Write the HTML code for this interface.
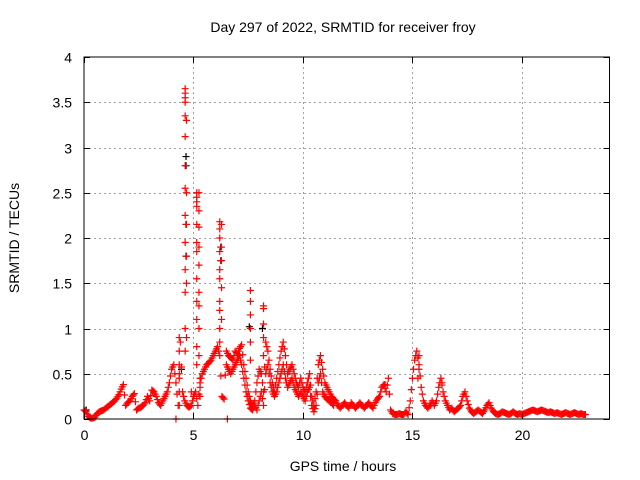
<!DOCTYPE html>
<html><head><meta charset="utf-8"><style>
body{margin:0;background:#fff}
svg{display:block}
text{font-family:"Liberation Sans",Arial,sans-serif;font-size:14px;fill:#000}
</style></head><body>
<svg id="chart" width="640" height="480" viewBox="0 0 640 480">
<rect x="0" y="0" width="640" height="480" fill="#fff"/>
<g id="grid"></g>
<g id="marks"></g>
<rect x="84" y="57" width="525.5" height="362" fill="none" stroke="#000" stroke-width="1"/>
<g id="ticks"></g>
<text x="343" y="32" text-anchor="middle">Day 297 of 2022, SRMTID for receiver froy</text>
<text x="343" y="471" text-anchor="middle">GPS time / hours</text>
<text x="19" y="238" text-anchor="middle" transform="rotate(-90 19 238)">SRMTID / TECUs</text>
</svg>
<script>
const xTicks=[0,5,10,15,20];
const yTicks=[0,0.5,1,1.5,2,2.5,3,3.5,4];
const yTickLabels=["0","0.5","1","1.5","2","2.5","3","3.5","4"];
const baseStart=0, baseStep=0.1;
const baseValues=[
0.10,0.08,0.03,0.01,0.01,0.02,0.06,0.08,0.09,0.10,
0.12,0.14,0.16,0.18,0.20,0.23,0.27,0.33,0.38,0.15,
0.18,0.20,0.25,0.28,0.10,0.12,0.13,0.15,0.18,0.25,
0.20,0.32,0.30,0.25,0.18,0.15,0.20,0.25,0.30,0.40,
0.55,0.60,0.40,0.15,0.85,0.30,0.20,0.15,0.13,0.15,
0.25,0.30,0.15,0.40,0.50,0.55,0.60,0.62,0.65,0.70,
0.75,0.80,0.70,0.25,0.22,0.75,0.70,0.68,0.65,0.75,
0.72,0.78,0.82,0.60,0.45,0.30,0.20,0.15,0.20,0.40,
0.55,0.50,0.30,0.85,0.75,0.55,0.40,0.30,0.45,0.60,
0.75,0.85,0.70,0.50,0.55,0.60,0.50,0.40,0.35,0.45,
0.35,0.30,0.40,0.50,0.25,0.15,0.30,0.60,0.70,0.55,
0.40,0.35,0.30,0.25,0.22,0.20,0.15,0.12,0.15,0.18,
0.15,0.12,0.18,0.15,0.12,0.15,0.18,0.15,0.12,0.15,
0.18,0.15,0.12,0.18,0.22,0.25,0.35,0.38,0.30,0.45,
0.10,0.06,0.05,0.05,0.06,0.05,0.05,0.08,0.05,0.20,
0.45,0.65,0.75,0.60,0.35,0.20,0.15,0.12,0.15,0.20,
0.15,0.20,0.35,0.45,0.30,0.20,0.15,0.10,0.12,0.08,
0.10,0.12,0.15,0.25,0.30,0.20,0.12,0.08,0.06,0.08,
0.10,0.08,0.06,0.10,0.15,0.18,0.12,0.08,0.06,0.05,
0.06,0.08,0.07,0.06,0.05,0.06,0.08,0.06,0.05,0.06,
0.05,0.06,0.07,0.08,0.09,0.10,0.09,0.08,0.09,0.10,
0.09,0.08,0.07,0.08,0.07,0.06,0.07,0.06,0.05,0.06,
0.07,0.06,0.05,0.06,0.07,0.06,0.05,0.06,0.05,0.05];
const lowStart=6.5;
const lowValues=[0.60,0.55,0.50,0.55,0.60,
0.65,0.70,0.60,0.45,0.30,0.20,0.12,0.10,0.15,0.10,
0.20,0.30,0.15,0.50,0.60,0.40,0.30,0.25,0.30,0.40,
0.50,0.60,0.45,0.35,0.40,0.45,0.35,0.30,0.25,0.30,
0.25,0.20,0.30,0.35,0.15,0.08,0.15,0.40,0.50,0.30,
0.25,0.22,0.20,0.18,0.15];
const spikeTimes=[4.62,4.62,4.62,4.62,4.62,4.62,4.62,4.62,4.62,4.62,4.62,4.62,4.62,4.62,
4.68,4.68,4.68,4.68,4.68,4.68,
5.15,5.15,5.15,5.15,5.15,5.15,5.15,5.15,5.15,5.15,5.15,5.15,
5.25,5.25,5.25,5.25,5.25,5.25,5.25,5.25,5.25,
6.2,6.2,6.2,6.2,6.2,6.2,6.2,6.2,6.2,6.2,
6.28,6.28,6.28,6.28,6.28,
7.6,7.6,7.6,7.6,7.6,7.6,
8.2,8.2,8.2,8.2,8.2,
4.35,4.35,4.35,4.35,4.35,4.35,
4.2,6.55,15.3,15.3,15.25,13.75,16.35,4.9,5.3,5.3,5.3];
const spikeValues=[3.65,3.6,3.55,3.5,3.35,3.12,2.8,2.55,2.25,1.95,1.65,1.4,1.0,0.75,
3.3,2.5,2.15,1.8,1.5,0.9,
2.5,2.45,2.4,2.35,2.15,1.95,1.85,1.55,1.3,1.1,0.8,0.6,
2.5,2.3,2.12,1.9,1.7,1.4,1.25,1.0,0.7,
2.18,2.1,2.0,1.85,1.65,1.55,1.3,1.2,1.0,0.85,
2.15,1.9,1.75,1.45,1.1,
1.42,1.3,1.15,1.0,0.85,0.65,
1.25,1.22,1.05,0.9,0.7,
0.9,0.75,0.6,0.45,0.3,0.15,
0.0,0.0,0.7,0.55,0.45,0.38,0.4,0.3,0.45,0.35,0.25];
const blackTimes=[4.66,4.66,4.66,4.66,6.25,6.25,7.55,8.15,4.45,0.1];
const blackValues=[2.9,2.8,2.15,1.8,1.75,1.9,1.02,1.0,0.55,0.1];

const X0=84,X1=609.5,Y0=419,Y1=57,XMAX=24,YMAX=4;
const sx=v=>X0+(X1-X0)*v/XMAX;
const sy=v=>Y0-(Y0-Y1)*v/YMAX;
const NS="http://www.w3.org/2000/svg";
const grid=document.getElementById('grid'),ticks=document.getElementById('ticks'),marks=document.getElementById('marks');
function ln(p,x1,y1,x2,y2,st,dash){const l=document.createElementNS(NS,'line');l.setAttribute('x1',x1);l.setAttribute('y1',y1);l.setAttribute('x2',x2);l.setAttribute('y2',y2);l.setAttribute('stroke',st);l.setAttribute('stroke-width',1);if(dash)l.setAttribute('stroke-dasharray',dash);p.appendChild(l);return l;}
function tx(p,x,y,s,anc){const t=document.createElementNS(NS,'text');t.setAttribute('x',x);t.setAttribute('y',y);t.setAttribute('text-anchor',anc);t.textContent=s;p.appendChild(t);return t;}
xTicks.forEach(v=>{const x=Math.round(sx(v))+0.5;
 if(v>0){const g=ln(grid,x,Y0,x,Y1,'#a0a0a0','2,3');
 
 }
 const t1=ln(ticks,x,Y0,x,Y0-6,'#000');
 
 
 const t2=ln(ticks,x,Y1,x,Y1+6,'#000');
 
 
 const lb=tx(ticks,x,440,String(v),'middle');
 
 });
yTicks.forEach((v,i)=>{const y=Math.round(sy(v))+0.5;
 if(v>0&&v<4){const g=ln(grid,X0,y,X1,y,'#a0a0a0','2,3');
 
 }
 const t1=ln(ticks,X0,y,X0+6,y,'#000');
 
 
 const t2=ln(ticks,X1,y,X1-6,y,'#000');
 
 
 const lb=tx(ticks,72,y+5,yTickLabels[i],'end');
 
 });
function plus(t,v,col,name){const x=sx(t),y=sy(v);const p=document.createElementNS(NS,'path');
 p.setAttribute('d',`M${x-3.5} ${y}H${x+3.5}M${x} ${y-3.5}V${y+3.5}`);p.setAttribute('stroke',col);p.setAttribute('stroke-width',1.2);
 
 
 marks.appendChild(p);}
blackValues.forEach((v,i)=>plus(blackTimes[i],v,'#000','point-black'));
function series(start,vals,name){vals.forEach((v,i)=>{plus(start+baseStep*i,v,'#f00',name);
 if(i+1<vals.length){const w=vals[i+1];plus(start+baseStep*(i+0.5),(v+w)/2,'#f00',name);}});}
series(baseStart,baseValues,'point');
series(lowStart,lowValues,'point-low');
spikeValues.forEach((v,i)=>plus(spikeTimes[i],v,'#f00','point-spike'));
</script>
</body></html>
